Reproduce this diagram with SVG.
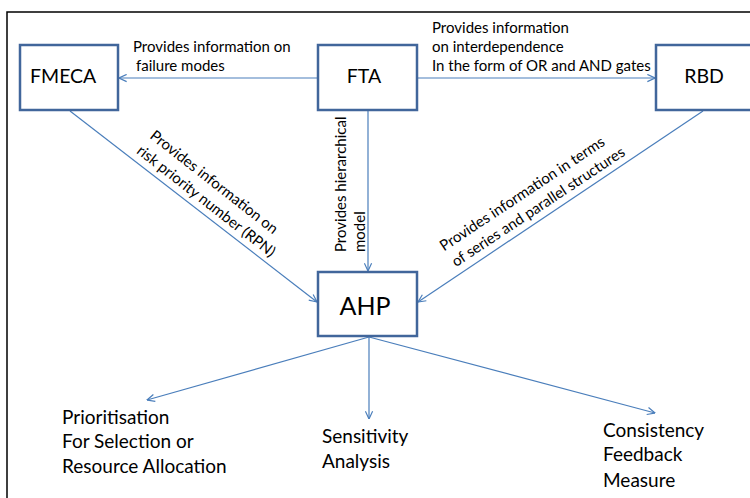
<svg xmlns="http://www.w3.org/2000/svg" width="750" height="498" viewBox="0 0 750 498">
<defs>
<style>
.box{fill:#fff;stroke:#41669b;stroke-width:2.5}
.lbl{font-family:Lato,"Liberation Sans",sans-serif;fill:#000}
.node{font-size:19.5px}
.edge{font-size:15px}
.out{font-size:19px}
.con{stroke:#4a7ebb;stroke-width:1.2;fill:none;marker-end:url(#ah)}
</style>
<marker id="ah" viewBox="0 0 10 10" refX="9.5" refY="5" markerWidth="9" markerHeight="9" markerUnits="userSpaceOnUse" orient="auto">
<path d="M1,1 L9.5,5 L1,9" fill="none" stroke="#4a7ebb" stroke-width="1.3"/>
</marker>
</defs>
<rect width="750" height="498" fill="#fff"/>
<path d="M7,498 V12 H750" fill="none" stroke="#000" stroke-width="1.5"/>

<g id="connectors">
<line class="con" x1="318" y1="78" x2="119" y2="78"/>
<line class="con" x1="418" y1="78" x2="655" y2="78"/>
<line class="con" x1="368" y1="111" x2="368" y2="271"/>
<line class="con" x1="70" y1="111" x2="317" y2="302"/>
<line class="con" x1="703" y1="111" x2="418" y2="302"/>
<line class="con" x1="369" y1="337" x2="147" y2="400"/>
<line class="con" x1="369" y1="337" x2="369" y2="419"/>
<line class="con" x1="369" y1="337" x2="655" y2="413"/>
<text class="lbl edge" x="133" y="52">Provides information on</text>
<text class="lbl edge" x="136" y="71">failure modes</text>
<text class="lbl edge" x="432" y="33">Provides information</text>
<text class="lbl edge" x="432" y="52">on interdependence</text>
<text class="lbl edge" x="432" y="71">In the form of OR and AND gates</text>
<text class="lbl edge" transform="translate(346,252) rotate(-90)">Provides hierarchical</text>
<text class="lbl edge" transform="translate(365,252) rotate(-90)">model</text>
<text class="lbl edge" text-anchor="middle" transform="translate(211,186) rotate(38)">Provides information on</text>
<text class="lbl edge" text-anchor="middle" transform="translate(203,205) rotate(38)">risk priority number (RPN)</text>
<text class="lbl edge" text-anchor="middle" transform="translate(525,198) rotate(-33.5)">Provides information in terms</text>
<text class="lbl edge" text-anchor="middle" transform="translate(541,211) rotate(-33.5)">of series and parallel structures</text>
</g>

<g id="FMECA">
<rect class="box" x="20" y="45" width="98" height="65"/>
<text class="lbl node" x="30" y="83">FMECA</text>
</g>
<g id="FTA">
<rect class="box" x="318" y="45" width="99" height="65"/>
<text class="lbl node" x="364" y="83" text-anchor="middle">FTA</text>
</g>
<g id="RBD">
<rect class="box" x="656" y="45" width="98" height="65"/>
<text class="lbl node" x="704" y="83" text-anchor="middle">RBD</text>
</g>
<g id="AHP">
<rect class="box" x="318" y="272" width="99" height="64"/>
<text class="lbl" x="365" y="315" text-anchor="middle" font-size="25">AHP</text>
</g>
<g id="Prioritisation">
<text class="lbl out" x="62" y="424">Prioritisation</text>
<text class="lbl out" x="62" y="448">For Selection or</text>
<text class="lbl out" x="62" y="473">Resource Allocation</text>
</g>
<g id="Sensitivity">
<text class="lbl out" x="322" y="443">Sensitivity</text>
<text class="lbl out" x="322" y="468">Analysis</text>
</g>
<g id="Consistency">
<text class="lbl out" x="603" y="437">Consistency</text>
<text class="lbl out" x="603" y="461">Feedback</text>
<text class="lbl out" x="603" y="487">Measure</text>
</g>
</svg>
